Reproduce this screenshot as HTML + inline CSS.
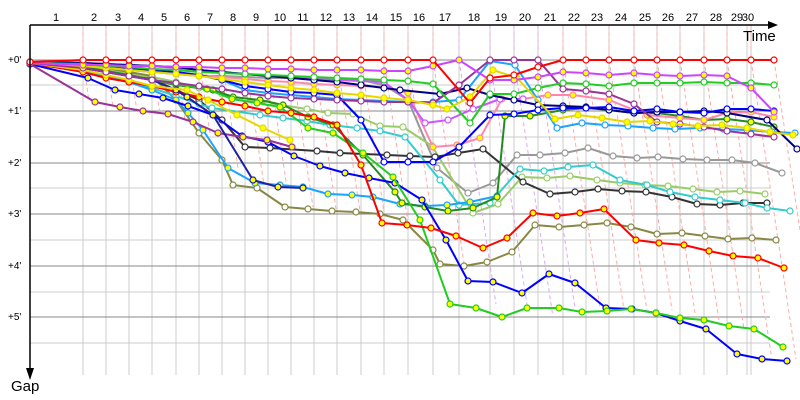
<!DOCTYPE html>
<html><head><meta charset="utf-8"><style>
html,body{margin:0;padding:0;background:#fff;}
svg{display:block;font-family:"Liberation Sans",sans-serif;}
</style></head><body>
<svg width="800" height="400" viewBox="0 0 800 400" xmlns="http://www.w3.org/2000/svg">
<defs>
<marker id="rw" markerWidth="8" markerHeight="8" refX="4" refY="4" markerUnits="userSpaceOnUse"><circle cx="4" cy="4" r="3" fill="#fff" stroke="#ff0000" stroke-width="1.2"/></marker>
<marker id="ry" markerWidth="8" markerHeight="8" refX="4" refY="4" markerUnits="userSpaceOnUse"><circle cx="4" cy="4" r="3" fill="#ffff00" stroke="#ff0000" stroke-width="1.2"/></marker>
<marker id="vy" markerWidth="8" markerHeight="8" refX="4" refY="4" markerUnits="userSpaceOnUse"><circle cx="4" cy="4" r="3" fill="#ffff00" stroke="#cc44ff" stroke-width="1.2"/></marker>
<marker id="vw" markerWidth="8" markerHeight="8" refX="4" refY="4" markerUnits="userSpaceOnUse"><circle cx="4" cy="4" r="3" fill="#fff" stroke="#cc55ff" stroke-width="1.2"/></marker>
<marker id="gw" markerWidth="8" markerHeight="8" refX="4" refY="4" markerUnits="userSpaceOnUse"><circle cx="4" cy="4" r="3" fill="#fff" stroke="#22cc22" stroke-width="1.2"/></marker>
<marker id="gy" markerWidth="8" markerHeight="8" refX="4" refY="4" markerUnits="userSpaceOnUse"><circle cx="4" cy="4" r="3" fill="#ffff00" stroke="#22cc22" stroke-width="1.2"/></marker>
<marker id="pw" markerWidth="8" markerHeight="8" refX="4" refY="4" markerUnits="userSpaceOnUse"><circle cx="4" cy="4" r="3" fill="#fff" stroke="#993399" stroke-width="1.2"/></marker>
<marker id="py" markerWidth="8" markerHeight="8" refX="4" refY="4" markerUnits="userSpaceOnUse"><circle cx="4" cy="4" r="3" fill="#ffff00" stroke="#993399" stroke-width="1.2"/></marker>
<marker id="bw" markerWidth="8" markerHeight="8" refX="4" refY="4" markerUnits="userSpaceOnUse"><circle cx="4" cy="4" r="3" fill="#fff" stroke="#0000ff" stroke-width="1.2"/></marker>
<marker id="by" markerWidth="8" markerHeight="8" refX="4" refY="4" markerUnits="userSpaceOnUse"><circle cx="4" cy="4" r="3" fill="#ffff00" stroke="#0000ff" stroke-width="1.2"/></marker>
<marker id="ow" markerWidth="8" markerHeight="8" refX="4" refY="4" markerUnits="userSpaceOnUse"><circle cx="4" cy="4" r="3" fill="#fff" stroke="#888844" stroke-width="1.2"/></marker>
<marker id="sw" markerWidth="8" markerHeight="8" refX="4" refY="4" markerUnits="userSpaceOnUse"><circle cx="4" cy="4" r="3" fill="#fff" stroke="#1aa3ff" stroke-width="1.2"/></marker>
<marker id="sy" markerWidth="8" markerHeight="8" refX="4" refY="4" markerUnits="userSpaceOnUse"><circle cx="4" cy="4" r="3" fill="#ffff00" stroke="#1aa3ff" stroke-width="1.2"/></marker>
<marker id="cw" markerWidth="8" markerHeight="8" refX="4" refY="4" markerUnits="userSpaceOnUse"><circle cx="4" cy="4" r="3" fill="#fff" stroke="#33cccc" stroke-width="1.2"/></marker>
<marker id="kw" markerWidth="8" markerHeight="8" refX="4" refY="4" markerUnits="userSpaceOnUse"><circle cx="4" cy="4" r="3" fill="#fff" stroke="#333333" stroke-width="1.2"/></marker>
<marker id="aw" markerWidth="8" markerHeight="8" refX="4" refY="4" markerUnits="userSpaceOnUse"><circle cx="4" cy="4" r="3" fill="#fff" stroke="#999999" stroke-width="1.2"/></marker>
<marker id="lw" markerWidth="8" markerHeight="8" refX="4" refY="4" markerUnits="userSpaceOnUse"><circle cx="4" cy="4" r="3" fill="#fff" stroke="#99cc66" stroke-width="1.2"/></marker>
<marker id="ky" markerWidth="8" markerHeight="8" refX="4" refY="4" markerUnits="userSpaceOnUse"><circle cx="4" cy="4" r="3" fill="#ffff00" stroke="#ff88aa" stroke-width="1.2"/></marker>
<marker id="yy" markerWidth="8" markerHeight="8" refX="4" refY="4" markerUnits="userSpaceOnUse"><circle cx="4" cy="4" r="3" fill="#ffff00" stroke="#e6d600" stroke-width="1.2"/></marker>
<marker id="fy" markerWidth="8" markerHeight="8" refX="4" refY="4" markerUnits="userSpaceOnUse"><circle cx="4" cy="4" r="3" fill="#ffff00" stroke="#228b22" stroke-width="1.2"/></marker>
<marker id="ny" markerWidth="8" markerHeight="8" refX="4" refY="4" markerUnits="userSpaceOnUse"><circle cx="4" cy="4" r="3" fill="#ffff00" stroke="#2020a0" stroke-width="1.2"/></marker>
<marker id="nw" markerWidth="8" markerHeight="8" refX="4" refY="4" markerUnits="userSpaceOnUse"><circle cx="4" cy="4" r="3" fill="#fff" stroke="#000080" stroke-width="1.2"/></marker>
</defs>

<!-- grid -->
<g stroke="#cccccc" stroke-width="1">
<line x1="83" y1="25" x2="83" y2="375"/><line x1="106" y1="25" x2="106" y2="375"/><line x1="129" y1="25" x2="129" y2="375"/><line x1="152" y1="25" x2="152" y2="375"/><line x1="176" y1="25" x2="176" y2="375"/><line x1="199" y1="25" x2="199" y2="375"/><line x1="222" y1="25" x2="222" y2="375"/><line x1="245" y1="25" x2="245" y2="375"/><line x1="268" y1="25" x2="268" y2="375"/><line x1="291" y1="25" x2="291" y2="375"/><line x1="314" y1="25" x2="314" y2="375"/><line x1="337" y1="25" x2="337" y2="375"/><line x1="361" y1="25" x2="361" y2="375"/><line x1="384" y1="25" x2="384" y2="375"/><line x1="408" y1="25" x2="408" y2="375"/><line x1="433" y1="25" x2="433" y2="375"/><line x1="459" y1="25" x2="459" y2="375"/><line x1="490" y1="25" x2="490" y2="375"/><line x1="514" y1="25" x2="514" y2="375"/><line x1="538" y1="25" x2="538" y2="375"/><line x1="563" y1="25" x2="563" y2="375"/><line x1="586" y1="25" x2="586" y2="375"/><line x1="609" y1="25" x2="609" y2="375"/><line x1="634" y1="25" x2="634" y2="375"/><line x1="657" y1="25" x2="657" y2="375"/><line x1="680" y1="25" x2="680" y2="375"/><line x1="704" y1="25" x2="704" y2="375"/><line x1="727" y1="25" x2="727" y2="375"/><line x1="747" y1="25" x2="747" y2="375"/><line x1="751" y1="25" x2="751" y2="375"/>
<line x1="30" y1="85" x2="770" y2="85"/><line x1="30" y1="137" x2="770" y2="137"/><line x1="30" y1="188" x2="770" y2="188"/><line x1="30" y1="240" x2="770" y2="240"/><line x1="30" y1="292" x2="770" y2="292"/><line x1="30" y1="343" x2="770" y2="343"/>
</g>
<g stroke="#888888" stroke-width="1">
<line x1="30" y1="60" x2="770" y2="60"/><line x1="30" y1="111" x2="770" y2="111"/><line x1="30" y1="163" x2="770" y2="163"/><line x1="30" y1="214" x2="770" y2="214"/><line x1="30" y1="266" x2="770" y2="266"/><line x1="30" y1="317" x2="770" y2="317"/>
</g>

<!-- dashed lap lines -->
<g fill="none" stroke="#ffaaaa" stroke-width="1" stroke-dasharray="4,3">
<polyline points="83,25 83,60 89,101"/><polyline points="106,25 106,60 113,107"/><polyline points="129,25 129,60 137,111"/><polyline points="152,25 152,60 160,114"/><polyline points="176,25 176,60 185,120"/><polyline points="199,25 199,60 210,133"/><polyline points="222,25 222,60 238,168"/><polyline points="245,25 245,60 264,185"/><polyline points="268,25 268,60 287,188"/><polyline points="291,25 291,60 313,207"/><polyline points="314,25 314,60 336,209"/><polyline points="337,25 337,60 360,211"/><polyline points="361,25 361,60 384,212"/><polyline points="384,25 384,60 408,223"/><polyline points="408,25 408,60 434,230"/><polyline points="433,25 433,60 465,270"/>
<polyline points="563,25 563,60 600,308"/><polyline points="586,25 586,60 624,310"/><polyline points="609,25 609,60 647,311"/><polyline points="634,25 634,60 672,310"/><polyline points="657,25 657,60 695,313"/><polyline points="680,25 680,60 719,321"/><polyline points="704,25 704,60 744,329"/><polyline points="727,25 727,60 771,354"/><polyline points="751,25 751,60 796,359"/><polyline points="774,60 800,230"/>
</g>
<g fill="none" stroke="#ddaaee" stroke-width="1" stroke-dasharray="4,3">
<polyline points="459,25 459,60 496,304"/><polyline points="490,25 490,60 528,311"/><polyline points="514,25 514,60 553,317"/><polyline points="538,25 538,60 575,308"/>
</g>

<!-- series -->
<g fill="none" stroke-width="2" stroke-linejoin="round">
<polyline stroke="#999999" marker-start="url(#aw)" marker-mid="url(#aw)" marker-end="url(#aw)" points="30,62 83,66 106,68 129,70 152,72 176,74 199,76 222,76 245,77 268,78 291,78 314,79 337,80 361,80 384,85 408,100 437,168 468,193 493,183 517,155 540,155 565,153 588,148 613,156 637,158 658,157 683,159 707,160 732,160 755,163 782,173"/>
<polyline stroke="#99cc66" marker-start="url(#lw)" marker-mid="url(#lw)" marker-end="url(#lw)" points="30,63 83,67 106,70 129,74 152,77 176,82 199,88 222,94 245,99 268,103 307,109 328,113 353,114 380,126 403,127 432,146 473,213 498,204 522,177 547,178 570,176 597,180 620,183 645,185 668,186 693,189 717,192 740,191 765,194"/>
<polyline stroke="#333333" marker-start="url(#kw)" marker-mid="url(#kw)" marker-end="url(#kw)" points="30,63 83,68 106,72 129,76 152,79 176,90 199,100 222,120 245,147 270,148 317,151 340,153 387,155 410,156 435,157 458,153 483,149 523,182 550,194 575,192 598,189 622,191 646,192 672,197 697,204 720,205 743,203 767,203"/>
<polyline stroke="#888844" marker-start="url(#ow)" marker-mid="url(#ow)" marker-end="url(#ow)" points="30,62 83,66 106,68 129,72 152,76 176,100 199,133 222,160 233,185 257,188 285,207 308,209 332,211 356,212 380,214 403,220 433,250 440,264 464,266 487,262 512,252 535,225 559,227 584,225 607,223 631,227 657,234 682,233 705,236 728,239 752,238 776,240"/>
<polyline stroke="#33cccc" marker-start="url(#cw)" marker-mid="url(#cw)" marker-end="url(#cw)" points="30,63 83,70 106,76 129,82 152,88 176,96 199,104 212,108 260,115 283,118 307,121 330,125 357,128 380,131 405,137 440,180 459,205 490,203 520,169 544,171 568,167 593,165 620,180 647,185 670,192 695,197 720,200 745,203 767,208 790,211"/>
<polyline stroke="#1aa3ff" marker-start="url(#sy)" marker-mid="url(#sy)" marker-end="url(#sy)" points="30,64 83,70 106,76 129,82 152,90 176,100 188,113 203,130 228,168 255,183 280,185 303,187 328,194 352,195 373,197 400,204 425,206 447,205 470,202 497,196"/>
<polyline stroke="#228b22" marker-start="url(#fy)" marker-mid="url(#fy)" marker-end="url(#fy)" points="30,63 83,67 106,71 129,75 152,80 176,85 213,90 233,97 260,100 283,105 308,117 333,125 363,155 395,192 402,203 425,207 448,211 473,208 497,197 505,116 530,116 563,110 586,108 609,110 634,113 657,113 680,116 704,120 727,119 751,122 774,127"/>
<polyline stroke="#0000ff" marker-start="url(#by)" marker-mid="url(#by)" marker-end="url(#by)" points="30,64 88,78 115,90 139,94 163,98 188,106 213,115 242,136 268,142 294,156 320,166 345,173 369,178 395,183 422,200 446,240 468,281 493,282 522,293 549,274 575,283 606,308 632,309 656,313 680,321 706,329 737,354 762,359 787,361"/>
<polyline stroke="#22cc22" marker-start="url(#gy)" marker-mid="url(#gy)" marker-end="url(#gy)" points="30,63 83,68 106,72 129,76 152,80 176,84 207,89 232,99 257,103 280,107 308,128 333,133 363,153 393,177 420,220 450,304 476,308 502,317 527,308 559,308 582,312 607,311 631,309 656,313 680,318 704,320 729,326 754,329 783,347"/>
<polyline stroke="#ff0000" marker-start="url(#ry)" marker-mid="url(#ry)" marker-end="url(#ry)" points="30,63 83,72 106,78 129,82 152,86 176,92 199,97 222,102 245,106 268,111 291,113 314,117 337,125 361,165 382,223 407,225 431,228 456,236 483,248 507,238 533,213 557,216 580,213 604,209 636,240 659,243 684,245 709,251 733,256 758,258 784,268"/>
<polyline stroke="#993399" marker-start="url(#py)" marker-mid="url(#py)" marker-end="url(#py)" points="30,64 95,102 120,107 143,111 168,114 193,122 218,133 243,137 267,140 292,147"/>
<polyline stroke="#2020a0" marker-start="url(#ny)" marker-mid="url(#ny)" marker-end="url(#ny)" points="30,64 83,68 106,72 129,76 152,80 176,90 187,97 213,115 253,180 278,187 303,188"/>
<polyline stroke="#e6d600" marker-start="url(#yy)" marker-mid="url(#yy)" marker-end="url(#yy)" points="30,63 83,70 106,75 129,80 152,86 187,90 208,100 237,115 263,128 290,140"/>
<polyline stroke="#ff88aa" marker-start="url(#ky)" marker-mid="url(#ky)" marker-end="url(#ky)" points="30,62 83,64 106,66 129,68 152,70 176,73 199,75 222,77 245,79 268,81 291,82 314,84 337,85 361,86 384,87 408,93 433,147 457,145 480,138 502,99 523,99 548,95 573,95 609,100 647,115 680,118 704,120 727,113 751,112 774,117"/>
<polyline stroke="#cc55ff" marker-start="url(#vw)" marker-mid="url(#vw)" marker-end="url(#vw)" points="30,62 83,63 106,64 129,65 152,66 176,68 199,70 222,72 245,74 268,76 291,78 314,79 337,80 361,81 384,82 408,100 425,123 448,120 473,109 500,99 523,99"/>
<polyline stroke="#1aa3ff" marker-start="url(#sw)" marker-mid="url(#sw)" marker-end="url(#sw)" points="30,62 83,64 106,66 129,68 152,70 176,73 199,75 222,80 245,90 268,93 291,95 314,97 337,99 361,100 384,101 408,102 433,102 459,100 490,61 515,65 538,100 557,128 582,123 605,125 628,126 653,128 675,129 700,128 723,129 747,130 772,132 795,133"/>
<polyline stroke="#000080" marker-start="url(#nw)" marker-mid="url(#nw)" marker-end="url(#nw)" points="30,62 83,63 106,64 129,65 152,66 176,67 199,70 222,72 245,74 268,76 291,78 314,80 337,82 361,85 384,88 400,90 440,94 467,88 490,95 514,100 538,105 563,106 586,107 609,110 634,113 657,112 680,112 704,111 727,113 767,120 797,149"/>
<polyline stroke="#0000ff" marker-start="url(#bw)" marker-mid="url(#bw)" marker-end="url(#bw)" points="30,62 83,64 106,66 129,68 152,70 176,72 199,75 222,80 245,86 268,89 291,92 314,93 337,95 361,120 384,162 408,162 433,162 459,147 490,115 514,114 538,110 563,108 586,108 609,107 634,111 657,109 680,112 704,113 727,109 751,109 774,111"/>
<polyline stroke="#993399" marker-start="url(#pw)" marker-mid="url(#pw)" marker-end="url(#pw)" points="30,63 83,68 106,72 129,76 152,80 176,83 199,86 222,89 245,93 268,96 291,98 314,99 337,100 361,101 384,102 408,102 433,103 459,85 490,60 514,60 538,60 563,89 586,91 609,94 634,104 657,122 680,124 704,127 727,131 751,134 774,137"/>
<polyline stroke="#22cc22" marker-start="url(#gw)" marker-mid="url(#gw)" marker-end="url(#gw)" points="30,63 83,64 106,66 129,67 152,69 176,70 199,72 222,73 245,74 268,75 291,76 314,77 337,78 361,79 384,80 408,81 433,84 470,123 490,94 514,94 538,88 563,83 586,84 609,86 634,83 657,83 680,83 704,82 727,83 751,83 774,85"/>
<polyline stroke="#e6d600" marker-start="url(#yy)" marker-mid="url(#yy)" marker-end="url(#yy)" points="30,62 83,66 106,68 129,70 152,72 176,74 199,76 222,79 245,82 268,85 291,88 314,90 337,93 361,95 384,98 408,100 433,105 447,109 470,97 493,70 517,78 555,119 578,115 602,118 627,122 650,121 673,124 698,126 722,125 747,128 770,132 793,135"/>
<polyline stroke="#cc44ff" marker-start="url(#vy)" marker-mid="url(#vy)" marker-end="url(#vy)" points="30,63 83,65 106,65 129,66 152,66 176,67 199,67 222,68 245,68 268,69 291,69 314,70 337,70 361,70 384,71 408,71 433,66 459,60 490,80 514,80 538,77 563,72 586,73 609,75 634,73 657,75 680,76 704,75 727,76 751,88 774,112"/>
<polyline stroke="#ff0000" marker-start="url(#rw)" marker-mid="url(#rw)" marker-end="url(#rw)" points="30,62 83,60 106,60 129,60 152,60 176,60 199,60 222,60 245,60 268,60 291,60 314,60 337,60 361,60 384,60 408,60 433,60 470,103 490,78 514,75 538,67 563,60 586,60 609,60 634,60 657,60 680,60 704,60 727,60 751,60 774,60"/>
</g>

<!-- axes -->
<g stroke="#000" stroke-width="1.5">
<line x1="30" y1="25" x2="770" y2="25"/>
<line x1="30" y1="25" x2="30" y2="372"/>
</g>
<polygon points="768,21 778,25 768,29" fill="#000"/>
<polygon points="26,368 30,380 34,368" fill="#000"/>

<g font-size="11" fill="#000" text-anchor="middle">
<text x="56" y="21">1</text><text x="94" y="21">2</text><text x="118" y="21">3</text><text x="141" y="21">4</text><text x="164" y="21">5</text><text x="187" y="21">6</text><text x="210" y="21">7</text><text x="233" y="21">8</text><text x="256" y="21">9</text><text x="280" y="21">10</text><text x="303" y="21">11</text><text x="326" y="21">12</text><text x="349" y="21">13</text><text x="372" y="21">14</text><text x="396" y="21">15</text><text x="419" y="21">16</text><text x="445" y="21">17</text><text x="474" y="21">18</text><text x="501" y="21">19</text><text x="525" y="21">20</text><text x="550" y="21">21</text><text x="574" y="21">22</text><text x="597" y="21">23</text><text x="621" y="21">24</text><text x="645" y="21">25</text><text x="668" y="21">26</text><text x="692" y="21">27</text><text x="716" y="21">28</text><text x="737" y="21">29</text><text x="748" y="21">30</text>
</g>
<g font-size="10" fill="#000">
<text x="8" y="63">+0'</text><text x="8" y="114">+1'</text><text x="8" y="166">+2'</text><text x="8" y="217">+3'</text><text x="8" y="269">+4'</text><text x="8" y="320">+5'</text>
</g>
<text x="743" y="41" font-size="15" fill="#000">Time</text>
<text x="11" y="391" font-size="15" fill="#000">Gap</text>
</svg>
</body></html>
